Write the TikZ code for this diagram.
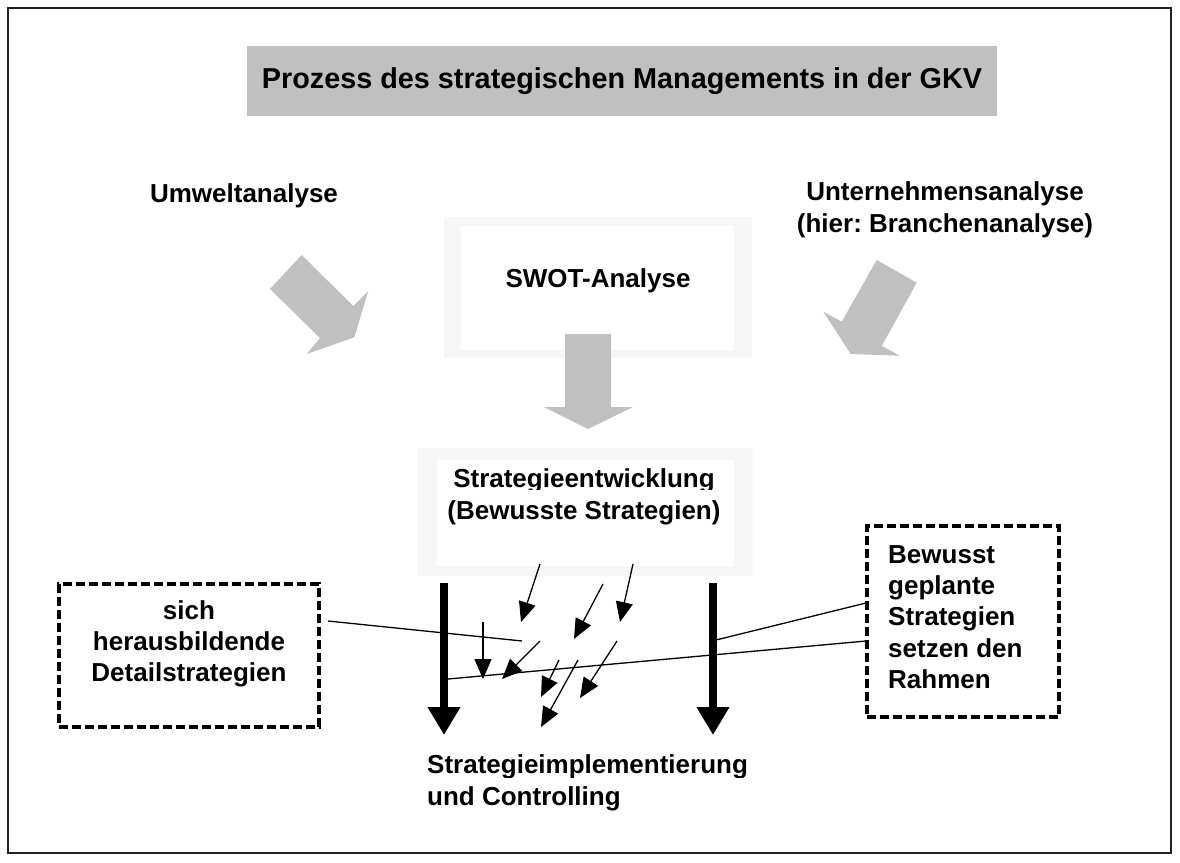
\documentclass[tikz,border=0pt]{standalone}
\usepackage{fontspec}
\setmainfont{Liberation Sans}
\usetikzlibrary{arrows.meta}
\definecolor{arrgray}{HTML}{C0C0C0}
\definecolor{framegray}{HTML}{F6F6F6}
\definecolor{bordergray}{HTML}{222222}
\frenchspacing
\begin{document}
\begin{tikzpicture}[x=1pt,y=-1pt,
  lbl/.style={font=\bfseries\fontsize{26}{31.3}\selectfont, inner sep=0pt},
  garrow/.style={fill=arrgray, draw=none},
  smallarrow/.style={line width=1.3pt, -{Triangle[length=20pt,width=17pt]}},
  bigarrow/.style={line width=8pt, -{Triangle[length=28pt,width=31pt]}},
  dbox/.style={draw, line width=3.5pt, dash pattern=on 9pt off 4pt},
  leader/.style={line width=1.3pt}
]
\useasboundingbox (0,0) rectangle (1180,862);
\fill[white] (0,0) rectangle (1180,862);
\draw[bordergray, line width=2pt] (8,8) rectangle (1171,853);

% title
\node[fill=arrgray, minimum width=750pt, minimum height=70pt, inner sep=0pt] (titlebox) at (622,81) {};
\node[lbl, font=\bfseries\fontsize{28.8}{34}\selectfont] (title) at (622,81) {Prozess des strategischen Managements in der GKV};

% top labels
\node[lbl, anchor=base] (umwelt) at (244,202) {Umweltanalyse};
\node[lbl, anchor=base, align=center] (unternehmen) at (945,232) {Unternehmensanalyse\\(hier: Branchenanalyse)};

% SWOT frame
\node[fill=framegray, minimum width=308pt, minimum height=141pt, inner sep=0pt] (swotframe) at (598,287.5) {};
\node[fill=white, minimum width=273pt, minimum height=124pt, inner sep=0pt] (swotinner) at (597.5,288) {};
\node[lbl, anchor=base] (swot) at (598,287) {SWOT-Analyse};

% gray block arrows
\fill[garrow] (301.7,255) -- (270,289) -- (320,338) -- (306.7,354) -- (354.3,337.3) -- (368.3,291) -- (353.3,306) -- cycle;
\fill[garrow] (876.7,260) -- (916.7,282.7) -- (881.7,346) -- (900,355.7) -- (850.7,354) -- (823.3,311.7) -- (841.7,321.7) -- cycle;
\fill[garrow] (565,334) -- (611,334) -- (611,407) -- (633,407) -- (588,429) -- (544,407) -- (565,407) -- cycle;

% Strategieentwicklung frame
\node[fill=framegray, minimum width=335pt, minimum height=128pt, inner sep=0pt] (stratframe) at (585.5,512) {};
\node[fill=white, minimum width=297pt, minimum height=106pt, inner sep=0pt] (stratinner) at (585.5,513) {};
\begin{scope}
  \clip (420,450) rectangle (750,489) (420,497) rectangle (750,540);
  \node[lbl, anchor=base, align=center] (strat) at (584,519) {Strategieentwicklung\\(Bewusste Strategien)};
\end{scope}

% bottom label
\begin{scope}
  \clip (420,740) rectangle (800,777) (420,785) rectangle (800,830);
  \node[lbl, anchor=base west, align=left] (impl) at (427,805) {Strategieimplementierung\\und Controlling};
\end{scope}

% thick black arrows
\coordinate (lt) at (444,583);
\coordinate (lb) at (444,735);
\coordinate (rt) at (713,583);
\coordinate (rb) at (713,735);
\draw[bigarrow] (lt) -- (lb);
\draw[bigarrow] (rt) -- (rb);

% small arrows
\coordinate (s1) at (540,564); \coordinate (e1) at (521,622);
\coordinate (s2) at (603,584); \coordinate (e2) at (574,639);
\coordinate (s3) at (633,564); \coordinate (e3) at (620,622);
\coordinate (s4) at (483,622); \coordinate (e4) at (483,679);
\coordinate (s5) at (540,641); \coordinate (e5) at (502,679);
\coordinate (s6) at (559,660); \coordinate (e6) at (541,697);
\coordinate (s7) at (578,660); \coordinate (e7) at (541,727);
\coordinate (s8) at (617,641); \coordinate (e8) at (580,698);
\foreach \i in {1,...,8} { \draw[smallarrow] (s\i) -- (e\i); }

% dashed boxes
\node[dbox, minimum width=260pt, minimum height=143pt, inner sep=0pt] (leftbox) at (189,655.5) {};
\node[lbl, anchor=base, align=center] (lefttext) at (189,681.7) {sich\\herausbildende\\Detailstrategien};
\node[dbox, minimum width=192pt, minimum height=191pt, inner sep=0pt] (rightbox) at (963,621.5) {};
\node[lbl, anchor=base west, align=left] (righttext) at (888,688.5) {Bewusst\\geplante\\Strategien\\setzen den\\Rahmen};

% leader lines
\coordinate (l1a) at (328,621); \coordinate (l1b) at (522,641);
\coordinate (l2a) at (448,679); \coordinate (l2b) at (866,641);
\coordinate (l3a) at (716,640); \coordinate (l3b) at (866,603);
\draw[leader] (l1a) -- (l1b);
\draw[leader] (l2a) -- (l2b);
\draw[leader] (l3a) -- (l3b);
\end{tikzpicture}
\end{document}
